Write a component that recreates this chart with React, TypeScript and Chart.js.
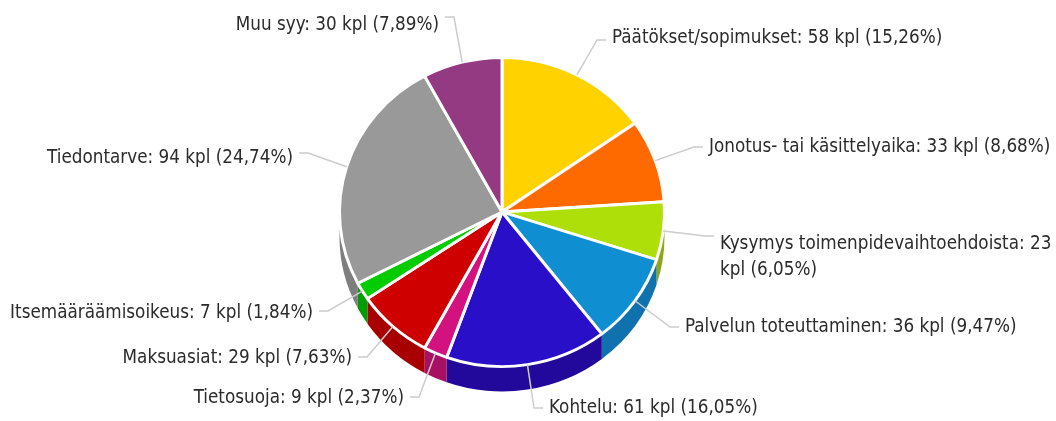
import React, { useEffect, useRef } from "react";
import { Chart, registerables } from "chart.js";

Chart.register(...registerables);

const categories = [
  "Päätökset/sopimukset",
  "Jonotus- tai käsittelyaika",
  "Kysymys toimenpidevaihtoehdoista",
  "Palvelun toteuttaminen",
  "Kohtelu",
  "Tietosuoja",
  "Maksuasiat",
  "Itsemääräämisoikeus",
  "Tiedontarve",
  "Muu syy",
];
const counts = [58, 33, 23, 36, 61, 9, 29, 7, 94, 30];
const shares = ["15,26", "8,68", "6,05", "9,47", "16,05", "2,37", "7,63", "1,84", "24,74", "7,89"];

const faceColors = ["#FFD200", "#FF6A00", "#AEDF08", "#0F8FD2", "#2A0FC8", "#D4127F", "#CF0000", "#00CC00", "#999999", "#933A82"];
const wallColors = ["#C9A600", "#C95300", "#8AA81A", "#0F72AE", "#22089B", "#A81064", "#A80000", "#009C00", "#7E7E7E", "#74306A"];

// Label placement: text anchor x, centre y, stub y, alignment
const labelPlacement = [
  { x: 612, y: 38, stub: 40, side: 1 },
  { x: 709, y: 147, stub: 147, side: 1 },
  { x: 720, y: 244, stub: 236, side: 1 },
  { x: 685, y: 327, stub: 327, side: 1 },
  { x: 549, y: 408, stub: 408, side: 1 },
  { x: 404, y: 398, stub: 397, side: -1 },
  { x: 352, y: 358, stub: 357, side: -1 },
  { x: 313, y: 313, stub: 311, side: -1 },
  { x: 293, y: 158, stub: 153, side: -1 },
  { x: 439, y: 25, stub: 17, side: -1 },
];

const squash = 155 / 163;
const depth = 25;
const fontFamily = '"DejaVu Sans Condensed", "DejaVu Sans", sans-serif';
const fontSize = 20;
const textWidthScale = 0.935;
const lineHeight = 26;

const pie3d = {
  id: "pie3d",
  beforeDatasetDraw(chart: any) {
    const ctx = chart.ctx;
    const arcs = chart.getDatasetMeta(0).data;
    arcs.forEach((arc: any, i: number) => {
      const a0 = Math.max(arc.startAngle, 0);
      const a1 = Math.min(arc.endAngle, Math.PI);
      if (a1 <= a0) return;
      const rx = arc.outerRadius;
      const ry = rx * squash;
      ctx.beginPath();
      ctx.ellipse(arc.x, arc.y + depth, rx, ry, 0, a0, a1);
      ctx.ellipse(arc.x, arc.y, rx, ry, 0, a1, a0, true);
      ctx.closePath();
      ctx.fillStyle = wallColors[i];
      ctx.fill();
    });
    const first = arcs[0];
    ctx.save();
    ctx.translate(first.x, first.y);
    ctx.scale(1, squash);
    ctx.translate(-first.x, -first.y);
  },
  afterDatasetDraw(chart: any) {
    chart.ctx.restore();
  },
  afterDatasetsDraw(chart: any) {
    const ctx = chart.ctx;
    const arcs = chart.getDatasetMeta(0).data;
    arcs.forEach((arc: any, i: number) => {
      const place = labelPlacement[i];
      const mid = (arc.startAngle + arc.endAngle) / 2;
      const rx = arc.outerRadius;
      const sx = arc.x + rx * Math.cos(mid);
      const sy = arc.y + rx * squash * Math.sin(mid);
      ctx.beginPath();
      ctx.moveTo(sx, sy);
      ctx.lineTo(place.x - place.side * 15, place.stub);
      ctx.lineTo(place.x - place.side * 6, place.stub);
      ctx.strokeStyle = "#cccccc";
      ctx.lineWidth = 1.5;
      ctx.stroke();

      ctx.font = `${fontSize}px ${fontFamily}`;
      ctx.fillStyle = "#2b2b2b";
      ctx.textBaseline = "middle";
      ctx.textAlign = place.side > 0 ? "left" : "right";
      const text = `${categories[i]}: ${counts[i]} kpl (${shares[i]}%)`;
      const limit = (chart.width - place.x) / textWidthScale;
      const lines: string[] = [];
      let line = "";
      for (const word of text.split(" ")) {
        const next = line ? `${line} ${word}` : word;
        if (place.side > 0 && line && ctx.measureText(next).width > limit) {
          lines.push(line);
          line = word;
        } else {
          line = next;
        }
      }
      lines.push(line);
      lines.forEach((l, k) => {
        ctx.save();
        ctx.translate(place.x, place.y + k * lineHeight);
        ctx.scale(textWidthScale, 1);
        ctx.fillText(l, 0, 0);
        ctx.restore();
      });
    });
  },
};

export default function App() {
  const ref = useRef<HTMLCanvasElement>(null);
  useEffect(() => {
    const chart = new Chart(ref.current!, {
      type: "pie",
      data: {
        labels: categories,
        datasets: [
          {
            data: counts,
            backgroundColor: faceColors,
            borderColor: "#ffffff",
            borderWidth: 3,
            clip: false,
          } as any,
        ],
      },
      options: {
        responsive: false,
        animation: false,
        events: [],
        layout: { padding: { left: 338, right: 390, top: 48, bottom: 45 } },
        plugins: { legend: { display: false }, tooltip: { enabled: false } },
      },
      plugins: [pie3d as any],
    });
    return () => chart.destroy();
  }, []);
  return (
    <div style={{ position: "absolute", left: 0, top: 0, width: 1056, height: 421, background: "#fff" }}>
      <canvas ref={ref} width={1056} height={421} style={{ display: "block" }} />
    </div>
  );
}
